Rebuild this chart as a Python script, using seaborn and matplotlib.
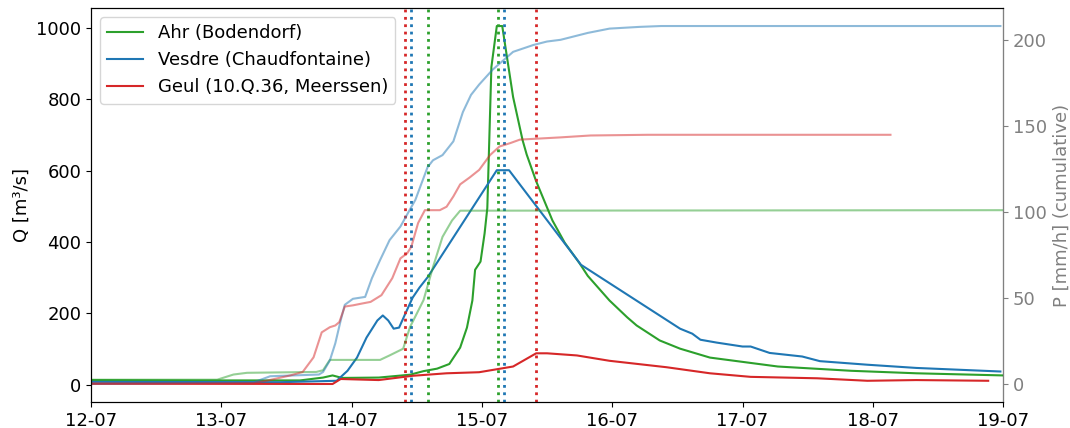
import matplotlib
matplotlib.use("Agg")
import matplotlib.pyplot as plt
import matplotlib.dates as mdates
import numpy as np
import pandas as pd
import seaborn as sns

# Discharge and cumulative precipitation, July 2021 flood event.
# Times are hours after 2021-07-12 00:00.
START = pd.Timestamp("2021-07-12")

ahr_q_hours = [0, 20, 38.5, 42.75, 44.5, 46.25, 53, 58.75, 61.25, 63.75, 66, 68,
               69.25, 70.25, 70.75, 71.75, 72.5, 73, 73.75, 74.75, 75.75, 76.5,
               77.75, 79.5, 80.25, 82, 85, 87.25, 90, 91.5, 95.5, 98.75,
               100.5, 104.75, 108.5, 114, 126.5, 140, 152, 168]
ahr_q = [13, 12, 12, 20, 26, 19, 20, 28, 38, 45, 58, 104,
         160, 236, 322, 345, 424, 495, 890, 1005, 1005, 930,
         806, 685, 645, 570, 460, 398, 340, 305, 236, 189,
         166, 124, 101, 76, 51, 39, 32, 26]

vesdre_q_hours = [0, 34.75, 45.25, 47.25, 49, 50.75, 52.75, 53.75, 54.75, 55.75,
                  56.75, 57.75, 59.25, 60.5, 62, 74.75, 77, 90.25, 108.5, 110.75,
                  112.25, 115.25, 120, 121.5, 125, 131, 134.25, 143, 152, 167.5]
vesdre_q = [8, 7, 11, 39, 76, 132, 180, 194, 180, 157,
            160, 194, 244, 272, 301, 601, 601, 336, 157, 143,
            126, 118, 107, 107, 89, 79, 66, 56, 47, 37]

geul_q_hours = [0, 44.5, 46, 53, 59.25, 65.5, 71.5, 77.75, 82, 84, 89.5, 95.5,
                106, 114, 121.5, 133.75, 143, 152, 165.25]
geul_q = [3, 2, 16, 13, 25, 32, 35, 51, 88, 88, 82, 67,
          49, 32, 22, 18, 11, 13, 11]

ahr_p_hours = [0, 23.25, 26.25, 28.75, 41.5, 42.75, 44, 53.25, 55, 57.5, 58.75,
               61.25, 63, 64.75, 66.5, 68, 168]
ahr_p = [2.5, 2.5, 5.5, 6.5, 7, 8, 14, 14, 16.6, 20.5, 33,
         48.7, 68, 85.5, 95, 100.7, 101]

vesdre_p_hours = [0, 30, 33, 42, 42.75, 44, 45, 46, 46.75, 48.25, 50.5, 51.75,
                  53.25, 55, 57, 58.5, 59.75, 62, 63, 64.75, 66.75, 68.5, 70,
                  71.5, 74, 77.75, 81.5, 84, 86.5, 91.5, 95.5, 101, 105, 167.5]
vesdre_p = [0, 1, 4.5, 5.5, 7, 13.7, 23.6, 37, 46, 49.5, 50.6, 61.5,
            72, 83.6, 91.5, 100, 107, 126, 130, 133, 141, 158, 168,
            174, 182.7, 193, 197, 199, 200, 204, 206.5, 207.5, 208, 208]

geul_p_hours = [0, 30, 32.5, 36.75, 39, 41, 42.5, 44, 45, 45.75, 46.75, 48.25,
                50, 51.5, 53.5, 55.5, 57, 58.25, 59, 60.25, 61.5, 64.25, 65.5,
                66.75, 68, 69.75, 71.5, 73.5, 75.25, 77.25, 79, 86.5, 92, 102.5,
                147.25]
geul_p = [0, 0.5, 2, 5, 7, 15.5, 30, 33, 34, 36, 45, 45.7,
          46.8, 47.7, 51.6, 61.5, 73, 76, 79.7, 93.5, 101, 101, 103,
          109, 116, 120, 124.4, 133, 138, 140, 142, 143.3, 144.4, 144.8,
          144.8]

# Event markers (hours): rain end and discharge peak per catchment
rain_end_hours = {"Geul": 57.75, "Vesdre": 59, "Ahr": 62}
peak_hours = {"Ahr": 75, "Vesdre": 76, "Geul": 82}

names = ["Ahr (Bodendorf)", "Vesdre (Chaudfontaine)", "Geul (10.Q.36, Meerssen)"]
colors = {"Ahr": "tab:green", "Vesdre": "tab:blue", "Geul": "tab:red"}


def to_time(hours):
    return START + pd.to_timedelta(np.asarray(hours, dtype=float), unit="h")


plt.rcParams["font.family"] = ["DejaVu Sans"]
plt.rcParams["font.size"] = 13

fig, ax = plt.subplots(figsize=(10.7, 4.28), dpi=100)
fig.subplots_adjust(left=0.085, right=0.9375, top=0.981, bottom=0.061)

q_series = [
    ("Ahr", ahr_q_hours, ahr_q),
    ("Vesdre", vesdre_q_hours, vesdre_q),
    ("Geul", geul_q_hours, geul_q),
]
for (key, hrs, vals), name in zip(q_series, names):
    sns.lineplot(x=to_time(hrs), y=vals, ax=ax, color=colors[key], lw=1.5,
                 label=name)

ax2 = ax.twinx()
p_series = [
    ("Ahr", ahr_p_hours, ahr_p),
    ("Vesdre", vesdre_p_hours, vesdre_p),
    ("Geul", geul_p_hours, geul_p),
]
for key, hrs, vals in p_series:
    sns.lineplot(x=to_time(hrs), y=vals, ax=ax2, color=colors[key], lw=1.5,
                 alpha=0.5, legend=False)

for key, h in rain_end_hours.items():
    ax.axvline(to_time([h])[0], color=colors[key], ls=":", lw=2)
for key, h in peak_hours.items():
    ax.axvline(to_time([h])[0], color=colors[key], ls=":", lw=2)

ax.set_xlim(START, START + pd.Timedelta(days=7))
ax.xaxis.set_major_locator(mdates.DayLocator())
ax.xaxis.set_major_formatter(mdates.DateFormatter("%d-%m"))
ax.set_xlabel("")
ax.set_ylabel("Q [m³/s]")
ax.tick_params(labelsize=13)

ax2.set_ylabel("P [mm/h] (cumulative)", color="grey")
ax2.tick_params(axis="y", colors="grey", labelsize=13)
ax2.spines["right"].set_color("grey")

ax.legend(loc="upper left", fontsize=13)

fig.savefig("out.png", dpi=100)
